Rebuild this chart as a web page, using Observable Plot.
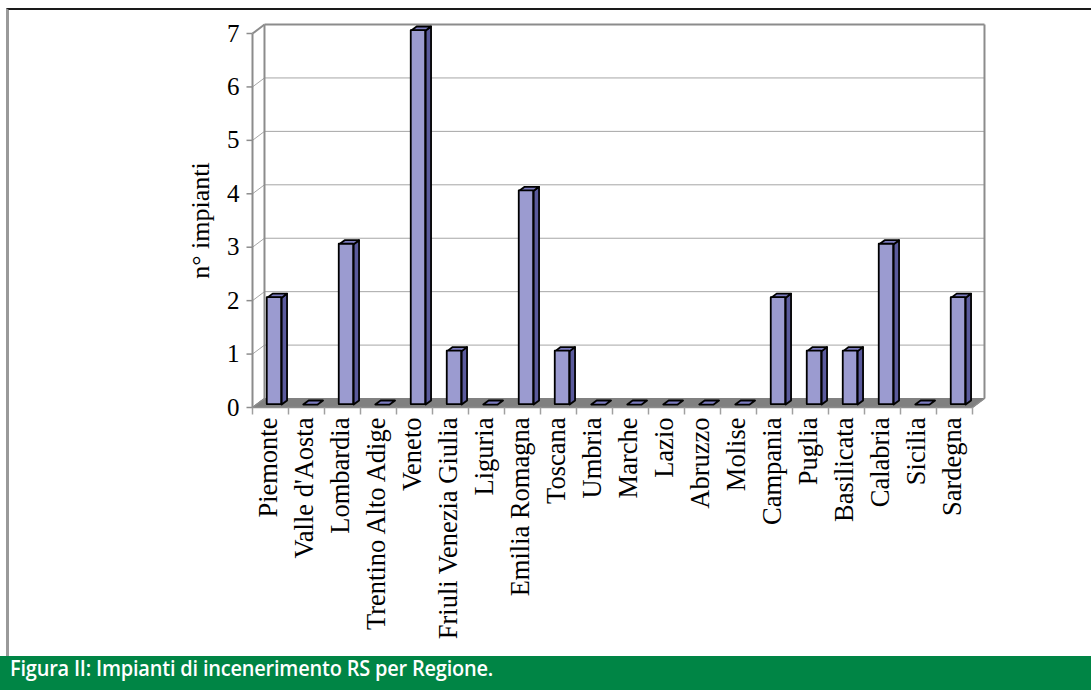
<!DOCTYPE html>
<html>
<head>
<meta charset="utf-8">
<script src="https://cdn.jsdelivr.net/npm/d3@7"></script>
<script src="https://cdn.jsdelivr.net/npm/@observablehq/plot@0.6"></script>
<style>
  html, body { margin: 0; padding: 0; background: #fff; }
  #wrap { position: relative; width: 1091px; height: 690px; overflow: hidden; background: #fff; }
  #frame { position: absolute; left: 6px; top: 8px; right: 0; height: 648px;
           border-top: 2px solid #1a1a1a; border-left: 3px solid #9a9a9a; box-sizing: border-box; pointer-events: none; }
  #chart svg { display: block; background: transparent !important; }
  #caption { position: absolute; left: 0; top: 656px; width: 1091px; height: 34px; background: #008545;
             color: #fff; font-family: "Open Sans", sans-serif; font-weight: 600; font-size: 21px;
             line-height: 24px; padding-left: 10px; box-sizing: border-box; letter-spacing: -0.2px; }
  #caption span { display: inline-block; transform: scaleX(0.95); transform-origin: left center; white-space: nowrap; }
</style>
</head>
<body>
<div id="wrap">
  <div id="chart"></div>
  <div id="frame"></div>
  <div id="caption"><span>Figura II: Impianti di incenerimento RS per Regione.</span></div>
</div>
<script>
// Number of RS incineration plants by Italian region
const regions = [
  "Piemonte", "Valle d'Aosta", "Lombardia", "Trentino Alto Adige", "Veneto",
  "Friuli Venezia Giulia", "Liguria", "Emilia Romagna", "Toscana", "Umbria",
  "Marche", "Lazio", "Abruzzo", "Molise", "Campania", "Puglia", "Basilicata",
  "Calabria", "Sicilia", "Sardegna"
];
const impianti = [2, 0, 3, 0, 7, 1, 0, 4, 1, 0, 0, 0, 0, 0, 2, 1, 1, 3, 0, 2];
const yTicks = [0, 1, 2, 3, 4, 5, 6, 7];
const yLabel = "n° impianti";

// Oblique 3D projection: the back of the box is shifted by (DX, DY) in data units
const DX = 0.333, DY = 0.168;
// Bars sit between depth D0 and D1, and between BX0..BX1 within each category
const D0 = 0.33, D1 = 0.78, BX0 = 0.3, BX1 = 0.7;
const N = regions.length;
const YMAX = yTicks[yTicks.length - 1];

const bars = regions.map((region, i) => ({region, i, value: impianti[i]}));

// Polygon vertices for the side and top faces of every bar
const sides = [], tops = [];
for (const b of bars) {
  const x0 = b.i + BX0, x1 = b.i + BX1, v = b.value;
  if (v > 0) {
    sides.push(
      {id: b.i, x: x1 + D0 * DX, y: D0 * DY},
      {id: b.i, x: x1 + D1 * DX, y: D1 * DY},
      {id: b.i, x: x1 + D1 * DX, y: v + D1 * DY},
      {id: b.i, x: x1 + D0 * DX, y: v + D0 * DY}
    );
  }
  tops.push(
    {id: b.i, x: x0 + D0 * DX, y: v + D0 * DY},
    {id: b.i, x: x1 + D0 * DX, y: v + D0 * DY},
    {id: b.i, x: x1 + D1 * DX, y: v + D1 * DY},
    {id: b.i, x: x0 + D1 * DX, y: v + D1 * DY}
  );
}

const floor = [
  {x: 0, y: 0}, {x: N, y: 0}, {x: N + DX, y: DY}, {x: DX, y: DY}
];
const inner = yTicks.filter(t => t > 0 && t < YMAX);
const bounds = d3.range(N + 1);

const serif = "'Liberation Serif', 'Times New Roman', serif";
const wallEdge = "#8c8c8c", gridColor = "#a6a6a6";
const outline = {stroke: "#000", strokeWidth: 1.8, strokeLinejoin: "round"};

const plot = Plot.plot({
  width: 1091,
  height: 656,
  marginLeft: 252,
  marginRight: 119,
  marginTop: 33,
  marginBottom: 249,
  x: {domain: [0, N], axis: null},
  y: {domain: [0, YMAX], axis: null},
  style: {background: "transparent", fontFamily: serif, color: "#000"},
  marks: [
    // floor
    Plot.line(floor, {x: "x", y: "y", curve: "linear-closed", fill: "#808080", stroke: "#808080", strokeWidth: 1}),
    // back-wall gridlines
    Plot.link(inner, {x1: DX, x2: N + DX, y1: t => t + DY, y2: t => t + DY, stroke: gridColor, strokeWidth: 1}),
    // side-wall gridlines
    Plot.link(inner, {x1: 0, x2: DX, y1: t => t, y2: t => t + DY, stroke: gridColor, strokeWidth: 1}),
    // wall edges
    Plot.link([0], {x1: 0, x2: 0, y1: 0, y2: YMAX, stroke: wallEdge, strokeWidth: 2}),
    Plot.link([0], {x1: DX, x2: DX, y1: DY, y2: YMAX + DY, stroke: wallEdge, strokeWidth: 2}),
    Plot.link([0], {x1: N + DX, x2: N + DX, y1: DY, y2: YMAX + DY, stroke: wallEdge, strokeWidth: 2}),
    Plot.link([0], {x1: DX, x2: N + DX, y1: YMAX + DY, y2: YMAX + DY, stroke: wallEdge, strokeWidth: 2}),
    Plot.link([0], {x1: 0, x2: DX, y1: YMAX, y2: YMAX + DY, stroke: wallEdge, strokeWidth: 2}),
    Plot.link([0], {x1: 0, x2: DX, y1: 0, y2: DY, stroke: wallEdge, strokeWidth: 1.5}),
    Plot.link([0], {x1: N, x2: N + DX, y1: 0, y2: DY, stroke: wallEdge, strokeWidth: 1.5}),
    Plot.link([0], {x1: 0, x2: N, y1: 0, y2: 0, stroke: wallEdge, strokeWidth: 1.5}),
    // y ticks and labels
    Plot.link(yTicks, {x1: -6 / 36, x2: 0, y1: t => t, y2: t => t, stroke: wallEdge, strokeWidth: 1.5}),
    Plot.text(yTicks, {y: t => t, frameAnchor: "left", dx: -13, textAnchor: "end", text: t => String(t), fontSize: 25, fill: "#000"}),
    // x ticks at category boundaries
    Plot.link(bounds, {x1: b => b, x2: b => b, y1: 0, y2: -7 / 53.43, stroke: "#a0a0a0", strokeWidth: 1.5}),
    // bars
    Plot.line(sides, {x: "x", y: "y", z: "id", curve: "linear-closed", fill: "#5a5a9c", ...outline}),
    Plot.line(tops, {x: "x", y: "y", z: "id", curve: "linear-closed", fill: "#7b7bbf", ...outline}),
    Plot.rect(bars.filter(b => b.value > 0), {
      x1: b => b.i + BX0 + D0 * DX, x2: b => b.i + BX1 + D0 * DX,
      y1: D0 * DY, y2: b => b.value + D0 * DY,
      fill: "#9b9bd0", ...outline
    }),
    // category labels
    Plot.text(bars, {x: b => b.i + 0.5, y: 0, text: "region", rotate: -90, textAnchor: "end", dy: 10, dx: -2, fontSize: 26.5, fill: "#000"}),
    // y-axis title
    Plot.text([yLabel], {frameAnchor: "left", dx: -52, rotate: -90, textAnchor: "middle", text: d => d, fontSize: 26, fill: "#000"})
  ]
});
document.getElementById("chart").appendChild(plot);
</script>
</body>
</html>
